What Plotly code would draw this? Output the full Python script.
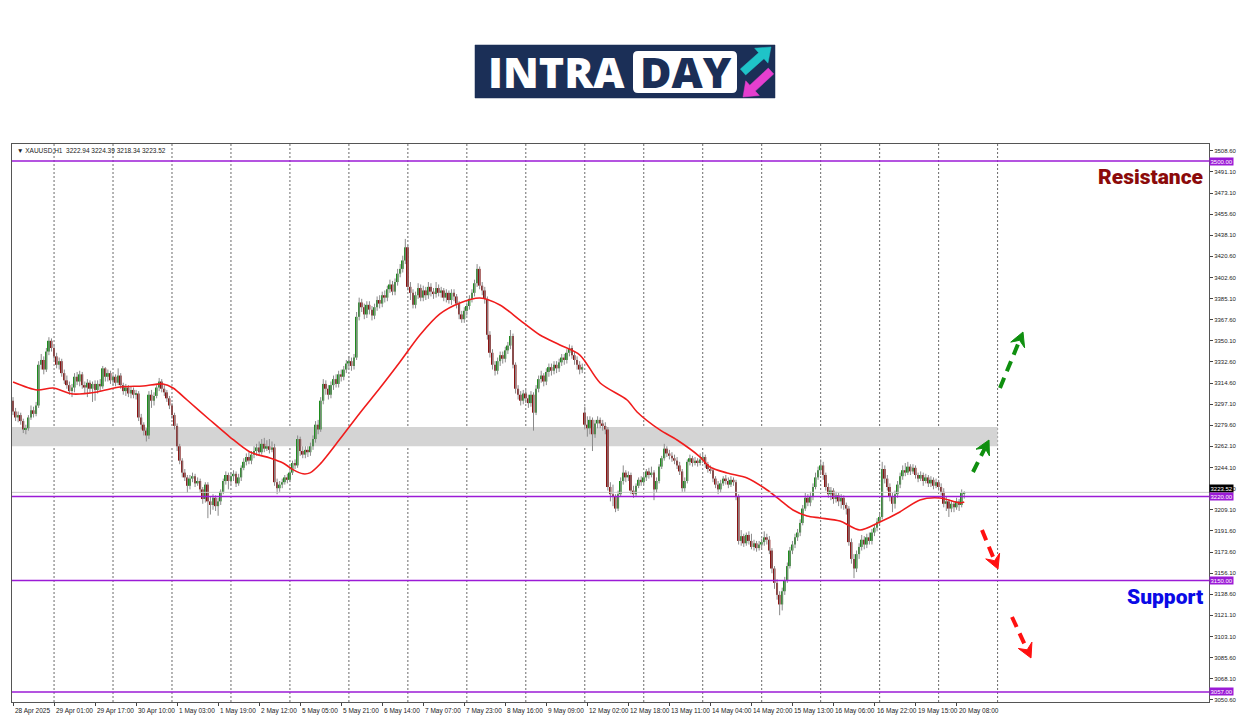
import math
import plotly.graph_objects as go

# ---------------- data ----------------
opens = [
    3300, 3291, 3286, 3288, 3283, 3276, 3277, 3286, 3292, 3289, 3296, 3330, 3334, 3326, 3341, 3350,
    3344, 3337, 3330, 3333, 3323, 3317, 3313, 3308, 3311, 3320, 3316, 3322, 3313, 3311, 3315, 3310, 3314, 3309, 3314, 3312, 3327, 3320, 3323,
    3317, 3320, 3315, 3321, 3313, 3308, 3311, 3306, 3309, 3305, 3306, 3286, 3280, 3275, 3271, 3305, 3300, 3304, 3311, 3316, 3310, 3307, 3302,
    3296, 3288, 3279, 3262, 3250, 3240, 3236, 3229, 3235, 3237, 3231, 3233, 3226, 3218, 3230, 3216, 3213, 3219, 3212, 3216, 3224, 3233, 3238,
    3233, 3237, 3239, 3231, 3236, 3244, 3249, 3253, 3250, 3255, 3258, 3261, 3257, 3264, 3260, 3262, 3259, 3261, 3232, 3227, 3230, 3232, 3236,
    3234, 3240, 3248, 3246, 3268, 3258, 3255, 3259, 3257, 3262, 3268, 3280, 3276, 3300, 3314, 3310, 3305, 3313, 3318, 3314, 3322, 3320, 3326,
    3331, 3333, 3329, 3336, 3370, 3382, 3378, 3372, 3380, 3376, 3371, 3378, 3384, 3381, 3388, 3386, 3393, 3397, 3391, 3399, 3406, 3410, 3417,
    3428, 3395, 3390, 3380, 3388, 3394, 3386, 3392, 3388, 3395, 3391, 3389, 3394, 3390, 3392, 3386, 3390, 3384, 3390, 3387, 3381, 3372, 3368,
    3375, 3379, 3385, 3390, 3398, 3410, 3396, 3392, 3385, 3355, 3340, 3330, 3325, 3333, 3338, 3335, 3342, 3346, 3354, 3330, 3310, 3305, 3300,
    3306, 3302, 3298, 3305, 3290, 3310, 3318, 3321, 3316, 3324, 3328, 3325, 3330, 3327, 3332, 3336, 3334, 3340, 3344, 3338, 3334, 3330, 3326,
    3290, 3280, 3277, 3284, 3272, 3281, 3284, 3281, 3279, 3276, 3228, 3222, 3220, 3210, 3222, 3233, 3240, 3236, 3238, 3225, 3222, 3229, 3234,
    3232, 3236, 3241, 3238, 3240, 3226, 3233, 3245, 3252, 3260, 3256, 3254, 3252, 3250, 3246, 3241, 3227, 3233, 3249, 3252, 3248, 3250, 3248,
    3251, 3253, 3247, 3243, 3242, 3235, 3230, 3226, 3231, 3235, 3233, 3230, 3234, 3232, 3220, 3183, 3187, 3181, 3188, 3183, 3178, 3181, 3177,
    3180, 3182, 3186, 3184, 3175, 3160, 3148, 3138, 3130, 3141, 3150, 3162, 3175, 3180, 3186, 3190, 3198, 3210, 3219, 3215, 3220, 3228, 3236,
    3242, 3246, 3238, 3228, 3222, 3225, 3218, 3221, 3216, 3219, 3213, 3210, 3182, 3168, 3160, 3172, 3178, 3184, 3180, 3186, 3183, 3190, 3194,
    3199, 3203, 3243, 3235, 3228, 3220, 3214, 3222, 3230, 3237, 3242, 3240, 3245, 3241, 3244, 3238, 3235, 3238, 3233, 3236, 3231, 3234, 3229,
    3232, 3228, 3224, 3214, 3216, 3210, 3214, 3211, 3216, 3213, 3222.94,
]
highs = [
    3303, 3294, 3291, 3290, 3285, 3280, 3288, 3296, 3295, 3299, 3333, 3339, 3337, 3344, 3353, 3352,
    3347, 3340, 3336, 3335, 3326, 3321, 3316, 3314, 3323, 3324, 3325, 3324, 3316, 3318, 3317, 3316, 3317, 3317, 3318, 3329, 3328, 3326, 3325,
    3322, 3322, 3327, 3323, 3315, 3314, 3313, 3312, 3311, 3309, 3308, 3289, 3282, 3277, 3308, 3309, 3307, 3313, 3319, 3318, 3313, 3309, 3304,
    3298, 3290, 3281, 3264, 3252, 3243, 3238, 3238, 3240, 3239, 3236, 3235, 3228, 3232, 3232, 3220, 3222, 3221, 3219, 3226, 3235, 3241, 3240,
    3240, 3242, 3241, 3239, 3246, 3252, 3256, 3257, 3258, 3262, 3264, 3266, 3268, 3269, 3267, 3268, 3266, 3264, 3235, 3233, 3235, 3238, 3239,
    3242, 3250, 3251, 3271, 3270, 3262, 3262, 3262, 3265, 3271, 3283, 3284, 3303, 3318, 3317, 3313, 3316, 3321, 3322, 3325, 3326, 3329, 3334,
    3337, 3336, 3339, 3374, 3386, 3385, 3381, 3383, 3383, 3379, 3381, 3387, 3388, 3391, 3392, 3396, 3401, 3400, 3402, 3410, 3414, 3421, 3435,
    3430, 3399, 3393, 3391, 3398, 3397, 3396, 3395, 3399, 3398, 3394, 3399, 3397, 3395, 3394, 3393, 3392, 3393, 3393, 3389, 3383, 3375, 3378,
    3382, 3388, 3393, 3401, 3414, 3412, 3399, 3395, 3387, 3358, 3343, 3333, 3336, 3341, 3341, 3345, 3349, 3359, 3356, 3332, 3313, 3308, 3309,
    3309, 3305, 3308, 3307, 3313, 3321, 3325, 3323, 3327, 3331, 3331, 3333, 3333, 3335, 3339, 3339, 3343, 3347, 3346, 3341, 3337, 3333, 3331,
    3295, 3287, 3287, 3286, 3284, 3287, 3286, 3284, 3282, 3278, 3232, 3230, 3222, 3225, 3236, 3246, 3242, 3241, 3240, 3229, 3231, 3236, 3237,
    3239, 3243, 3244, 3245, 3242, 3236, 3247, 3254, 3264, 3262, 3259, 3257, 3255, 3253, 3249, 3243, 3236, 3251, 3255, 3254, 3253, 3252, 3256,
    3256, 3255, 3249, 3246, 3244, 3237, 3233, 3234, 3237, 3238, 3236, 3237, 3236, 3234, 3222, 3192, 3189, 3190, 3191, 3189, 3184, 3183, 3183,
    3185, 3191, 3189, 3187, 3177, 3162, 3151, 3141, 3144, 3153, 3165, 3178, 3183, 3189, 3193, 3201, 3213, 3223, 3222, 3224, 3231, 3240, 3245,
    3251, 3249, 3240, 3231, 3228, 3227, 3224, 3223, 3222, 3221, 3215, 3212, 3185, 3172, 3175, 3181, 3188, 3187, 3189, 3190, 3193, 3197, 3202,
    3206, 3249, 3246, 3238, 3231, 3223, 3225, 3233, 3240, 3246, 3248, 3249, 3247, 3247, 3246, 3240, 3241, 3240, 3239, 3238, 3237, 3236, 3235,
    3234, 3231, 3227, 3220, 3218, 3217, 3216, 3219, 3218, 3226, 3224.39,
]
lows = [
    3288, 3283, 3282, 3280, 3273, 3272, 3275, 3284, 3286, 3287, 3294, 3326, 3322, 3324, 3338, 3341,
    3334, 3327, 3326, 3320, 3314, 3310, 3305, 3303, 3307, 3313, 3312, 3310, 3306, 3303, 3306, 3299, 3300, 3306, 3308, 3310, 3316, 3316, 3314,
    3313, 3312, 3313, 3310, 3305, 3304, 3303, 3302, 3302, 3301, 3283, 3276, 3271, 3266, 3268, 3294, 3296, 3302, 3308, 3307, 3304, 3299, 3293,
    3285, 3276, 3258, 3247, 3236, 3233, 3223, 3226, 3232, 3228, 3229, 3223, 3214, 3215, 3202, 3205, 3209, 3208, 3204, 3213, 3222, 3230, 3226,
    3230, 3233, 3228, 3229, 3233, 3242, 3246, 3247, 3247, 3252, 3254, 3254, 3255, 3257, 3258, 3256, 3257, 3229, 3222, 3224, 3227, 3230, 3231,
    3232, 3238, 3243, 3244, 3254, 3252, 3252, 3253, 3254, 3259, 3265, 3272, 3274, 3297, 3305, 3301, 3302, 3309, 3311, 3311, 3316, 3317, 3323,
    3327, 3325, 3326, 3334, 3367, 3374, 3368, 3369, 3372, 3367, 3368, 3375, 3377, 3378, 3382, 3383, 3390, 3388, 3388, 3396, 3403, 3407, 3414,
    3392, 3384, 3377, 3377, 3385, 3383, 3383, 3384, 3385, 3387, 3385, 3386, 3387, 3386, 3383, 3382, 3381, 3380, 3383, 3377, 3368, 3365, 3365,
    3371, 3376, 3382, 3387, 3395, 3393, 3388, 3381, 3351, 3336, 3326, 3321, 3322, 3329, 3331, 3332, 3339, 3343, 3327, 3306, 3301, 3296, 3297,
    3298, 3294, 3295, 3275, 3288, 3307, 3315, 3312, 3313, 3320, 3321, 3322, 3323, 3324, 3329, 3330, 3331, 3337, 3335, 3330, 3326, 3322, 3323,
    3276, 3270, 3272, 3258, 3269, 3277, 3277, 3275, 3272, 3225, 3216, 3212, 3207, 3208, 3220, 3230, 3232, 3233, 3222, 3219, 3220, 3227, 3229,
    3230, 3233, 3235, 3236, 3217, 3223, 3231, 3243, 3250, 3253, 3251, 3249, 3247, 3243, 3238, 3224, 3224, 3231, 3246, 3245, 3246, 3245, 3246,
    3248, 3244, 3240, 3239, 3232, 3227, 3222, 3223, 3229, 3230, 3227, 3228, 3229, 3217, 3180, 3179, 3178, 3179, 3180, 3176, 3175, 3174, 3175,
    3177, 3179, 3180, 3172, 3156, 3143, 3134, 3121, 3125, 3138, 3148, 3160, 3172, 3177, 3183, 3187, 3196, 3208, 3212, 3212, 3217, 3226, 3234,
    3238, 3234, 3225, 3219, 3217, 3214, 3215, 3212, 3210, 3209, 3205, 3179, 3164, 3152, 3157, 3168, 3175, 3176, 3177, 3180, 3180, 3187, 3191,
    3197, 3201, 3231, 3225, 3216, 3207, 3210, 3219, 3227, 3234, 3237, 3238, 3238, 3239, 3235, 3232, 3233, 3229, 3231, 3228, 3228, 3226, 3227,
    3225, 3221, 3211, 3208, 3203, 3207, 3207, 3209, 3208, 3211, 3218.34,
]
closes = [
    3291, 3286, 3288, 3283, 3276, 3277, 3286, 3292, 3289, 3296, 3330, 3334, 3326, 3341, 3350, 3344,
    3337, 3330, 3333, 3323, 3317, 3313, 3308, 3311, 3320, 3316, 3322, 3313, 3311, 3315, 3310, 3314, 3309, 3314, 3312, 3327, 3320, 3323, 3317,
    3320, 3315, 3321, 3313, 3308, 3311, 3306, 3309, 3305, 3306, 3286, 3280, 3275, 3271, 3305, 3300, 3304, 3311, 3316, 3310, 3307, 3302, 3296,
    3288, 3279, 3262, 3250, 3240, 3236, 3229, 3235, 3237, 3231, 3233, 3226, 3218, 3230, 3216, 3213, 3219, 3212, 3216, 3224, 3233, 3238, 3233,
    3237, 3239, 3231, 3236, 3244, 3249, 3253, 3250, 3255, 3258, 3261, 3257, 3264, 3260, 3262, 3259, 3261, 3232, 3227, 3230, 3232, 3236, 3234,
    3240, 3248, 3246, 3268, 3258, 3255, 3259, 3257, 3262, 3268, 3280, 3276, 3300, 3314, 3310, 3305, 3313, 3318, 3314, 3322, 3320, 3326, 3331,
    3333, 3329, 3336, 3370, 3382, 3378, 3372, 3380, 3376, 3371, 3378, 3384, 3381, 3388, 3386, 3393, 3397, 3391, 3399, 3406, 3410, 3417, 3428,
    3395, 3390, 3380, 3388, 3394, 3386, 3392, 3388, 3395, 3391, 3389, 3394, 3390, 3392, 3386, 3390, 3384, 3390, 3387, 3381, 3372, 3368, 3375,
    3379, 3385, 3390, 3398, 3410, 3396, 3392, 3385, 3355, 3340, 3330, 3325, 3333, 3338, 3335, 3342, 3346, 3354, 3330, 3310, 3305, 3300, 3306,
    3302, 3298, 3305, 3290, 3310, 3318, 3321, 3316, 3324, 3328, 3325, 3330, 3327, 3332, 3336, 3334, 3340, 3344, 3338, 3334, 3330, 3326, 3328,
    3280, 3277, 3284, 3272, 3281, 3284, 3281, 3279, 3276, 3228, 3222, 3220, 3210, 3222, 3233, 3240, 3236, 3238, 3225, 3222, 3229, 3234, 3232,
    3236, 3241, 3238, 3240, 3226, 3233, 3245, 3252, 3260, 3256, 3254, 3252, 3250, 3246, 3241, 3227, 3233, 3249, 3252, 3248, 3250, 3248, 3251,
    3253, 3247, 3243, 3242, 3235, 3230, 3226, 3231, 3235, 3233, 3230, 3234, 3232, 3220, 3183, 3187, 3181, 3188, 3183, 3178, 3181, 3177, 3180,
    3182, 3186, 3184, 3175, 3160, 3148, 3138, 3130, 3141, 3150, 3162, 3175, 3180, 3186, 3190, 3198, 3210, 3219, 3215, 3220, 3228, 3236, 3242,
    3246, 3238, 3228, 3222, 3225, 3218, 3221, 3216, 3219, 3213, 3210, 3182, 3168, 3160, 3172, 3178, 3184, 3180, 3186, 3183, 3190, 3194, 3199,
    3203, 3243, 3235, 3228, 3220, 3214, 3222, 3230, 3237, 3242, 3240, 3245, 3241, 3244, 3238, 3235, 3238, 3233, 3236, 3231, 3234, 3229, 3232,
    3228, 3224, 3214, 3216, 3210, 3214, 3211, 3216, 3213, 3222.94, 3223.52,
]

# moving average (red line): bar index -> price
ma_bars = [0, 9.4, 15.6, 23.4, 32.8, 41.7, 50.7, 58.5, 62.4, 67.9, 76.8, 84.6, 92.4, 100.2, 105.3,
           109.2, 113.1, 115.8, 119.7, 127.5, 135.3, 143.1, 150.9, 158.7, 166.5, 174.3, 182.1,
           189.9, 197.7, 205.5, 213.3, 221.1, 229.0, 239.5, 243.4, 252.3, 259.0, 268.0, 271.8,
           278.5, 286.3, 294.1, 299.1, 304.2, 309.7, 314.7, 322.5, 330.3, 338.1, 345.9, 353.7,
           361.5, 369.3, 371]
ma_values = [3315.6, 3308.9, 3310.6, 3305.6, 3307.3, 3311.4, 3312.3, 3314.0, 3310.6, 3300.6, 3283.9,
             3269.7, 3257.2, 3252.2, 3248.0, 3242.5, 3239.0, 3239.8, 3247.0, 3268.0, 3289.8, 3310.6,
             3332.3, 3354.8, 3372.4, 3381.5, 3385.7, 3379.9, 3367.3, 3354.8, 3346.5, 3338.1, 3314.8,
             3300.6, 3290.6, 3275.6, 3267.2, 3253.0, 3244.7, 3239.7, 3235.5, 3225.5, 3217.2, 3208.8,
             3203.8, 3202.2, 3199.6, 3192.1, 3198.8, 3207.2, 3217.2, 3218.8, 3214.7, 3215.5]

x_tick_labels = ["28 Apr 2025", "29 Apr 01:00", "29 Apr 17:00", "30 Apr 10:00", "1 May 03:00",
                 "1 May 19:00", "2 May 12:00", "5 May 05:00", "5 May 21:00", "6 May 14:00",
                 "7 May 07:00", "7 May 23:00", "8 May 16:00", "9 May 09:00", "12 May 02:00",
                 "12 May 18:00", "13 May 11:00", "14 May 04:00", "14 May 20:00", "15 May 13:00",
                 "16 May 06:00", "16 May 22:00", "19 May 15:00", "20 May 08:00"]
y_tick_values = [3508.60, 3491.10, 3473.10, 3455.60, 3438.10, 3420.60, 3402.60, 3385.10, 3367.60,
                 3350.10, 3332.60, 3314.60, 3297.10, 3279.60, 3262.10, 3244.10, 3226.60, 3209.10,
                 3191.60, 3173.60, 3156.10, 3138.60, 3121.10, 3103.10, 3085.60, 3068.10, 3050.60]
level_prices = [3500.00, 3220.00, 3150.00, 3057.00]
zone_prices = [3262.0, 3278.0]
bid_price = 3223.52
header_text = "\u25BC XAUUSD,H1  3222.94 3224.39 3218.34 3223.52"

assert len(opens) == len(highs) == len(lows) == len(closes)
n = len(closes)
bars = list(range(n))

# ---------------- geometry helpers ----------------
W, H = 1250, 716
PL, PR, PT, PB = 12, 1209, 144, 702
BARS_PER_LABEL = 16
BARS_PER_DAY = 23
FIRST_DAY_BAR = 16


def px(x):
    return (x - PL) / (PR - PL)


def py(y):
    return (PB - y) / (PB - PT)


fig = go.Figure()

# wicks
fig.add_trace(go.Ohlc(
    x=bars, open=opens, high=highs, low=lows, close=closes, tickwidth=0,
    increasing=dict(line=dict(color="#8a8a8a", width=1)),
    decreasing=dict(line=dict(color="#8a8a8a", width=1)),
    hoverinfo="skip", showlegend=False))

# bodies
body_base = [min(o, c) for o, c in zip(opens, closes)]
body_len = [max(abs(c - o), 0.5) for o, c in zip(opens, closes)]
body_col = ["#1e8c1e" if c >= o else "#8b1212" for o, c in zip(opens, closes)]
fig.add_trace(go.Bar(x=bars, y=body_len, base=body_base, width=0.75,
                     marker=dict(color=body_col, line=dict(width=0)),
                     hoverinfo="skip", showlegend=False))

# moving average
fig.add_trace(go.Scatter(x=ma_bars, y=ma_values, mode="lines",
                         line=dict(color="#f01c1c", width=1.6, shape="spline", smoothing=0.8),
                         hoverinfo="skip", showlegend=False))

shapes = []
# zone
shapes.append(dict(type="rect", xref="x", yref="y", x0=-0.4, x1=FIRST_DAY_BAR + 16 * BARS_PER_DAY,
                   y0=zone_prices[0], y1=zone_prices[1], fillcolor="#d4d4d4",
                   line=dict(width=0), layer="below"))
# day separators
for b in range(FIRST_DAY_BAR, FIRST_DAY_BAR + 17 * BARS_PER_DAY, BARS_PER_DAY):
    shapes.append(dict(type="line", xref="x", yref="paper", x0=b, x1=b, y0=0, y1=1,
                       line=dict(color="#6a6a6a", width=1, dash="2px,2px"), layer="below"))
# bid line
shapes.append(dict(type="line", xref="paper", yref="y", x0=0, x1=1, y0=bid_price, y1=bid_price,
                   line=dict(color="#c8c8c8", width=1)))
# level lines
for lv in level_prices:
    shapes.append(dict(type="line", xref="paper", yref="y", x0=0, x1=1, y0=lv, y1=lv,
                       line=dict(color="#9b1bd6", width=1.5)))


def dashed_arrow(x0, y0, x1, y1, color):
    dx, dy = x1 - x0, y1 - y0
    d = math.hypot(dx, dy)
    ux, uy = dx / d, dy / d
    nx, ny = -uy, ux
    lh, wh, notch = 14, 7.5, 5
    bx, by = x1 - lh * ux, y1 - lh * uy
    mx, my = x1 - (lh - notch) * ux, y1 - (lh - notch) * uy
    out = [dict(type="line", xref="paper", yref="paper", x0=px(x0), y0=py(y0),
                x1=px(mx), y1=py(my), line=dict(color=color, width=4, dash="11px,7px"))]
    pts = [(x1, y1), (bx + wh * nx, by + wh * ny), (mx, my), (bx - wh * nx, by - wh * ny)]
    path = "M " + " L ".join(f"{px(a):.5f},{py(b):.5f}" for a, b in pts) + " Z"
    out.append(dict(type="path", xref="paper", yref="paper", path=path, fillcolor=color,
                    line=dict(color=color, width=1)))
    return out


shapes += dashed_arrow(973, 472, 989, 440, "#0f8f0f")
shapes += dashed_arrow(1000, 388, 1023, 332, "#0f8f0f")
shapes += dashed_arrow(982, 530, 998, 569, "#ff1010")
shapes += dashed_arrow(1012, 617, 1031, 658, "#ff1010")


def poly(points, color):
    path = "M " + " L ".join(f"{px(a):.5f},{py(b):.5f}" for a, b in points) + " Z"
    return dict(type="path", xref="paper", yref="paper", path=path, fillcolor=color,
                line=dict(color=color, width=0.5))


def fat_arrow(x0, y0, x1, y1, color, ws=8, wh=20, lh=13):
    dx, dy = x1 - x0, y1 - y0
    d = math.hypot(dx, dy)
    ux, uy = dx / d, dy / d
    nx, ny = -uy, ux
    bx, by = x1 - lh * ux, y1 - lh * uy
    pts = [(x0 + ws / 2 * nx, y0 + ws / 2 * ny), (bx + ws / 2 * nx, by + ws / 2 * ny),
           (bx + wh / 2 * nx, by + wh / 2 * ny), (x1, y1),
           (bx - wh / 2 * nx, by - wh / 2 * ny), (bx - ws / 2 * nx, by - ws / 2 * ny),
           (x0 - ws / 2 * nx, y0 - ws / 2 * ny)]
    return poly(pts, color)


def rounded_rect(x0, y0, x1, y1, r, color):
    path = (f"M {px(x0 + r):.5f},{py(y0):.5f} L {px(x1 - r):.5f},{py(y0):.5f} "
            f"Q {px(x1):.5f},{py(y0):.5f} {px(x1):.5f},{py(y0 + r):.5f} "
            f"L {px(x1):.5f},{py(y1 - r):.5f} Q {px(x1):.5f},{py(y1):.5f} {px(x1 - r):.5f},{py(y1):.5f} "
            f"L {px(x0 + r):.5f},{py(y1):.5f} Q {px(x0):.5f},{py(y1):.5f} {px(x0):.5f},{py(y1 - r):.5f} "
            f"L {px(x0):.5f},{py(y0 + r):.5f} Q {px(x0):.5f},{py(y0):.5f} {px(x0 + r):.5f},{py(y0):.5f} Z")
    return dict(type="path", xref="paper", yref="paper", path=path, fillcolor=color,
                line=dict(width=0))


# logo
shapes.append(poly([(475, 45), (775, 45), (775, 98), (475, 98)], "#1b2f57"))
shapes.append(rounded_rect(633, 51, 737, 93, 5, "#ffffff"))
shapes.append(fat_arrow(743, 72, 771, 47, "#1fc3c8"))
shapes.append(fat_arrow(771, 71, 743, 97, "#e53fcf"))

annotations = []
annotations.append(dict(text="INTRA", xref="paper", yref="paper", x=px(486), y=py(72),
                        xanchor="left", yanchor="middle", showarrow=False,
                        font=dict(family="Open Sans", size=43, color="#ffffff", weight=800)))
annotations.append(dict(text="DAY", xref="paper", yref="paper", x=px(686), y=py(72),
                        xanchor="center", yanchor="middle", showarrow=False,
                        font=dict(family="Open Sans", size=43, color="#1b2f57", weight=800)))

# header
annotations.append(dict(text=header_text, xref="paper", yref="paper", x=px(15), y=py(150),
                        xanchor="left", yanchor="middle", showarrow=False,
                        font=dict(family="Liberation Sans, DejaVu Sans", size=6.5, color="#222222")))

# x labels
for k, lab in enumerate(x_tick_labels):
    annotations.append(dict(text=lab, xref="x", yref="paper", x=k * BARS_PER_LABEL, y=0,
                            xanchor="left", yanchor="top", yshift=-3, xshift=0, showarrow=False,
                            font=dict(family="Liberation Sans", size=6.5, color="#222222")))

# bid box and level boxes on the price scale
annotations.append(dict(text=f"{bid_price:.2f}", xref="paper", yref="y", x=1, y=bid_price + 3,
                        xanchor="left", yanchor="middle", showarrow=False, bgcolor="#000000",
                        borderpad=0.5,
                        font=dict(family="Liberation Sans", size=6, color="#ffffff")))
for lv in level_prices:
    annotations.append(dict(text=f"{lv:.2f}", xref="paper", yref="y", x=1, y=lv,
                            xanchor="left", yanchor="middle", showarrow=False, bgcolor="#9b1bd6",
                            borderpad=0.5,
                            font=dict(family="Liberation Sans", size=6, color="#ffffff")))

annotations.append(dict(text="Resistance", xref="paper", yref="paper", x=px(1206), y=py(177),
                        xanchor="right", yanchor="middle", showarrow=False,
                        font=dict(family="Roboto", size=21, color="#8b0a0a", weight=900)))
annotations.append(dict(text="Support", xref="paper", yref="paper", x=px(1205), y=py(597),
                        xanchor="right", yanchor="middle", showarrow=False,
                        font=dict(family="Roboto", size=21, color="#0a0ae6", weight=900)))

fig.update_layout(
    width=W, height=H,
    margin=dict(l=PL, r=W - PR, t=PT, b=H - PB),
    paper_bgcolor="#ffffff", plot_bgcolor="#ffffff",
    showlegend=False, hovermode=False, barmode="overlay",
    shapes=shapes, annotations=annotations,
    xaxis=dict(range=[-0.4, (PR - 13) / 2.564], showgrid=False, zeroline=False,
               tickvals=[k * BARS_PER_LABEL for k in range(len(x_tick_labels))],
               ticktext=["" for _ in x_tick_labels], ticks="outside", ticklen=3,
               tickcolor="#444444", showline=True, linecolor="#555555", linewidth=1,
               mirror=True, rangeslider=dict(visible=False), fixedrange=True),
    yaxis=dict(range=[3048.6, 3514.2], side="right", showgrid=False, zeroline=False,
               tickvals=y_tick_values, ticktext=[f"{v:.2f}" for v in y_tick_values],
               ticks="outside", ticklen=3, tickcolor="#444444",
               tickfont=dict(family="Liberation Sans", size=6, color="#222222"),
               showline=True, linecolor="#555555", linewidth=1, mirror=True, fixedrange=True),
)

fig.write_html("out.html", config={"displayModeBar": False},
               post_script="document.body.style.margin='0';document.body.style.overflow='hidden';")
